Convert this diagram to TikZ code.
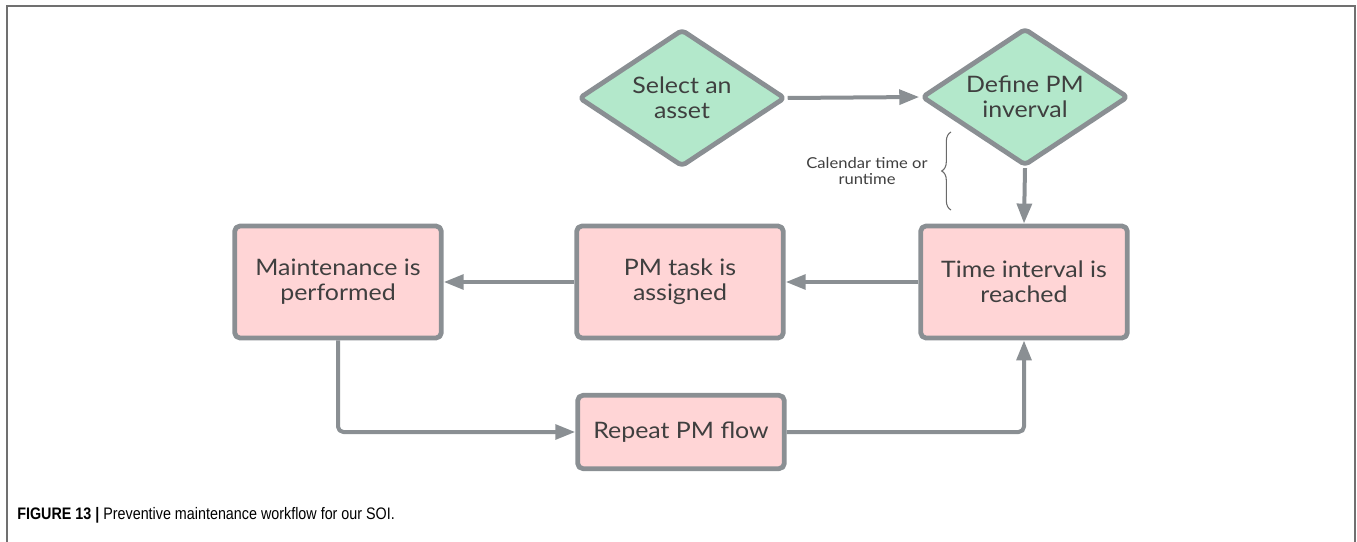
\documentclass[tikz,border=0pt]{standalone}
\usepackage{fontspec}
\setmainfont{Lato}
\newfontfamily\boxfont[FakeStretch=1.1]{Lato}
\newfontfamily\capfont[FakeStretch=0.86]{Liberation Sans}
\usetikzlibrary{shapes.geometric,arrows.meta,decorations.pathreplacing}
\definecolor{edgegray}{HTML}{8A8F93}
\definecolor{leafgreen}{HTML}{B3E8CB}
\definecolor{blush}{HTML}{FFD5D6}
\definecolor{inkgray}{HTML}{3F3F3F}
\definecolor{framegray}{HTML}{707070}
\definecolor{bracegray}{HTML}{6A6A6A}

\begin{document}
\begin{tikzpicture}[x=0.75pt,y=-0.75pt,
  base/.style={draw=edgegray, line width=3.6pt, text=inkgray, align=center,
    font=\boxfont\fontsize{17}{19}\selectfont, inner sep=0pt, line join=round},
  decision/.style={base, diamond, aspect=1.5, fill=leafgreen,
    minimum width=155pt, minimum height=103pt, rounded corners=3pt},
  stepbox/.style={base, rectangle, fill=blush, minimum width=155pt,
    minimum height=84pt, rounded corners=4pt},
  flow/.style={draw=edgegray, line width=3pt, line join=round,
    -{Triangle[length=15pt,width=11pt]}},
]
\useasboundingbox (0,0) rectangle (1357,542);

% open frame around the figure
\draw[framegray, line width=1.5pt] (7,542) -- (7,6) -- (1355,6) -- (1355,542);

% decisions
\node[decision] (asset)  at (682,98)  {Select an\\asset};
\node[decision] (define) at (1025,97) {Define PM\\inverval};

% process steps
\node[stepbox] (maint)  at (338,282)  {Maintenance is\\performed};
\node[stepbox] (task)   at (680,282)  {PM task is\\assigned};
\node[stepbox] (reach)  at (1024,282) {Time interval is\\reached};
\node[stepbox, minimum height=55pt] (repeat) at (681,432) {Repeat PM flow};

% connectors
\draw[flow] (asset.east) -- (define.west);
\draw[flow] (define.south) -- (reach.north);
\draw[flow] (reach.west) -- (task.east);
\draw[flow] (task.west) -- (maint.east);
\draw[flow, rounded corners=4pt] (maint.south) |- (repeat.west);
\draw[flow, rounded corners=4pt] (repeat.east) -| (reach.south);

% note with brace
\coordinate (braceLow)  at (951,210);
\coordinate (braceHigh) at (951,132);
\draw[bracegray, line width=0.8pt, decorate, decoration={brace, amplitude=7pt}]
  (braceLow) -- (braceHigh);
\node[text=inkgray, align=center, inner sep=0pt,
  font=\boxfont\fontsize{11.3}{12}\selectfont] (note) at (867,171) {Calendar time or\\runtime};

% caption
\node[anchor=base west, inner sep=0pt, text=black,
  font=\capfont\fontsize{12.5}{15}\selectfont] (caption) at (17,519)
  {\textbf{FIGURE 13 |} Preventive maintenance workflow for our SOI.};
\end{tikzpicture}
\end{document}
